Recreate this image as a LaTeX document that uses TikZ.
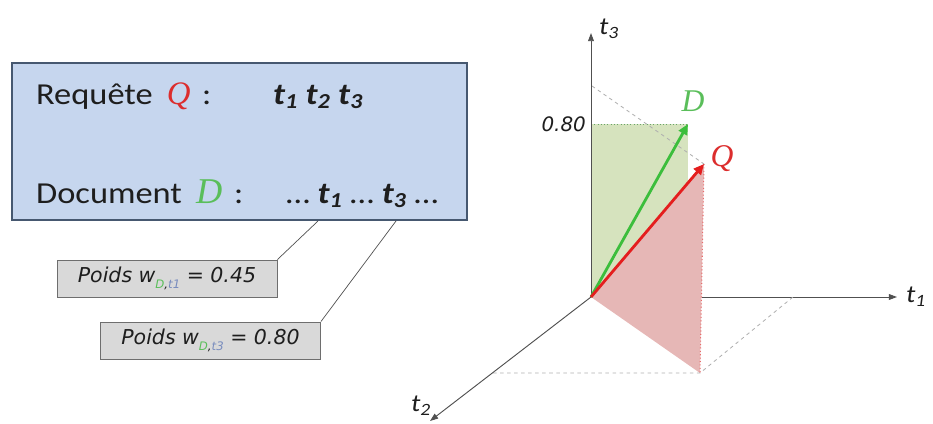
\documentclass[tikz,border=0pt]{standalone}
\usepackage{fontspec}
\setmainfont{Carlito}[FakeStretch=1.13]
\newfontfamily\weightfont{DejaVu Sans}
\newfontfamily\vecfont{Liberation Serif}
\usepackage{xcolor}
\usepackage{tikz}
\usetikzlibrary{arrows.meta}

\definecolor{boxblue}{RGB}{198,214,238}
\definecolor{boxedge}{RGB}{70,88,112}
\definecolor{weightgray}{RGB}{217,217,217}
\definecolor{weightedge}{RGB}{110,110,110}
\definecolor{textdark}{RGB}{30,30,30}
\definecolor{axisgray}{RGB}{80,80,80}
\definecolor{guidegray}{RGB}{175,175,175}
\definecolor{facegreen}{RGB}{214,227,190}
\definecolor{facered}{RGB}{230,183,182}
\definecolor{vecgreen}{RGB}{60,190,60}
\definecolor{vecred}{RGB}{228,30,30}
\definecolor{labgreen}{RGB}{90,190,90}
\definecolor{labred}{RGB}{220,45,45}
\definecolor{subblue}{RGB}{120,140,190}

\newcommand{\wsub}[1]{\raisebox{-5pt}{\fontsize{10}{11}\selectfont\textcolor{labgreen}{D},\textcolor{subblue}{#1}}}

\begin{document}
\begin{tikzpicture}[
  x=0.03cm,y=-0.03cm,
  querybox/.style={draw=boxedge,fill=boxblue,line width=1pt,
                   minimum width=13.65cm,minimum height=4.71cm},
  weightbox/.style={draw=weightedge,fill=weightgray,line width=0.8pt,
                    minimum width=6.6cm,minimum height=1.11cm,text=textdark,
                    font=\weightfont\itshape\fontsize{17.5}{20}\selectfont},
  boxtext/.style={anchor=base west,text=textdark,
                  font=\fontsize{26}{30}\selectfont},
  axis/.style={draw=axisgray,line width=0.8pt,-{Triangle[length=7pt,width=5pt]}},
  axislabel/.style={text=textdark,font=\itshape\fontsize{21}{24}\selectfont},
  guide/.style={draw=guidegray,dashed,line width=0.7pt},
  vec/.style={line width=2.4pt,-{Triangle[length=9pt,width=8pt]}},
  veclabel/.style={font=\vecfont\itshape\fontsize{27}{30}\selectfont}
]
\useasboundingbox (0,0) rectangle (933,423);

% query and document
\node[querybox] (qbox) at (239.5,141.5) {};
\node[boxtext] (req) at (32,104)
  {Requête\hspace{12pt}\textcolor{labred}{\vecfont\itshape\fontsize{28}{30}\selectfont Q}\hspace{10pt}:};
\node[boxtext,font=\bfseries\itshape\fontsize{26}{30}\selectfont] (reqterms) at (269,104)
  {t\textsubscript{1} t\textsubscript{2} t\textsubscript{3}};
\node[boxtext] (doc) at (32,203)
  {Document\hspace{12pt}\textcolor{labgreen}{\vecfont\itshape\fontsize{31}{32}\selectfont D}\hspace{10pt}:};
\node[boxtext] (docterms) at (282,203)
  {\dots\ {\bfseries\itshape t\textsubscript{1}} \dots\ {\bfseries\itshape t\textsubscript{3}} \dots};
\coordinate (tone) at (318,221);
\coordinate (tthree) at (396,221);

% weights
\node[weightbox] (wone) at (167,278.5) {Poids w\wsub{t1} = 0.45};
\node[weightbox] (wthree) at (210.5,340.5) {Poids w\wsub{t3} = 0.80};
\draw[axisgray,line width=0.6pt] (tone) -- (wone.north east);
\draw[axisgray,line width=0.6pt] (tthree) -- (wthree.north east);

% vector space
\coordinate (O) at (591,297);
\coordinate (dtip) at (688,124);
\coordinate (qtip) at (704,164);
\coordinate (qfoot) at (700,373);
\coordinate (tthreetop) at (591,124);
\coordinate (qthree) at (592,86);
\coordinate (qone) at (793,297);
\coordinate (qtwo) at (493,373);

\draw[axis] (702,297) -- (897,297);
\fill[facegreen] (O) -- (tthreetop) -- (dtip) -- (688,297) -- cycle;
\fill[facered] (O) -- (qtip) -- (qfoot) -- cycle;
\draw[dotted,labgreen!60!gray,line width=0.8pt] (tthreetop) -- (dtip);
\draw[dotted,labred!70,line width=0.9pt] (qtip) -- (qfoot);
\draw[guide] (qthree) -- (qtip);
\draw[guide] (qtwo) -- (qfoot) -- (qone);
\draw[axis] (O) -- (591,33);
\draw[axis] (O) -- (430,421);

\draw[vec,vecgreen] (O) -- (dtip);
\draw[vec,vecred] (O) -- (qtip);

\node[veclabel,text=labgreen] (dlab) at (693,101) {D};
\node[veclabel,text=labred] (qlab) at (722,159) {Q};
\node[text=textdark,font=\weightfont\itshape\fontsize{17}{19}\selectfont,anchor=east] (level) at (590,124) {0.80};
\node[axislabel] (lthree) at (609,29) {t\textsubscript{3}};
\node[axislabel,anchor=west] (lone) at (902,297) {t\textsubscript{1}};
\node[axislabel] (ltwo) at (421,406) {t\textsubscript{2}};
\end{tikzpicture}
\end{document}
